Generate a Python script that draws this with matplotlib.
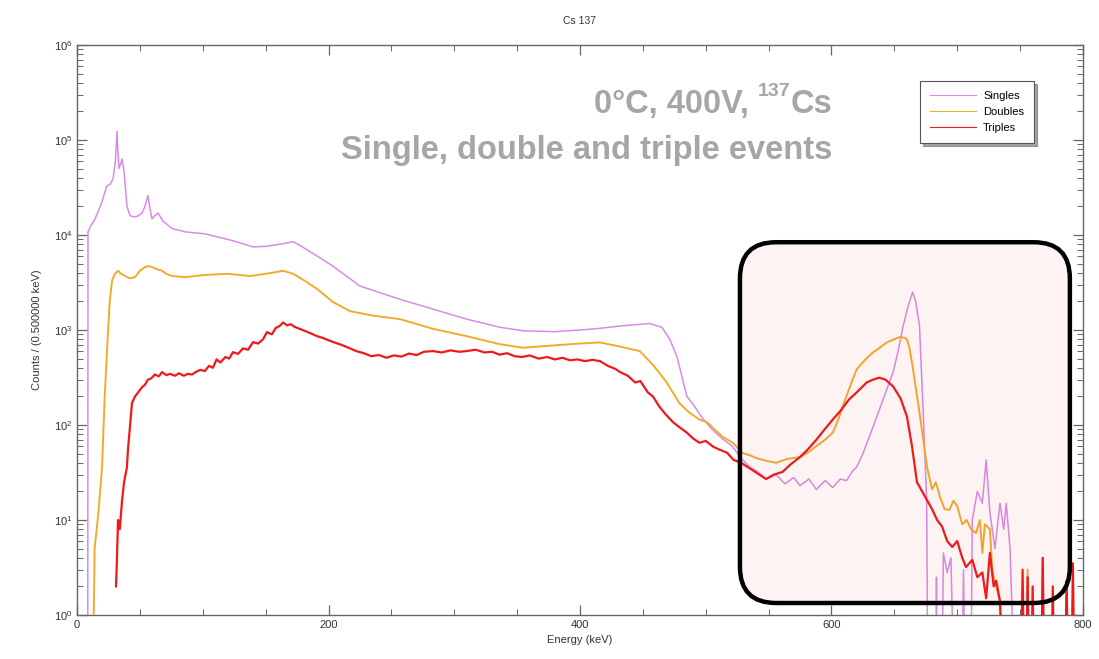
import matplotlib
matplotlib.use("Agg")
import matplotlib.pyplot as plt
from matplotlib.patches import FancyBboxPatch
from matplotlib.ticker import MultipleLocator, LogLocator, NullFormatter
import numpy as np

# ---------------- data ----------------
singles_E = [8.5, 8.7, 11, 14.3, 17, 19.9, 22, 23.8, 26.2, 28.6, 30.5, 31.8, 32.6, 33.4, 35.8, 37.4,
             39.7, 42.1, 45, 47.7, 51.7, 54, 56.4, 58, 59.6, 62, 64.4, 68.4, 75.5, 85.9, 101.7, 124,
             140, 151, 164, 172, 177, 191, 203.5, 225, 257, 283, 310, 336, 355, 380, 400, 415.7,
             431.6, 455.5, 465, 471.4, 477, 481, 485, 490, 497, 505, 513, 521, 528, 535, 540, 548,
             556, 563, 570, 575, 582, 588, 595, 601, 607, 612, 617, 620, 625, 633, 641, 649, 653,
             657, 661, 664.5, 667, 670, 672.5, 675.7, 676.5, 683, 683.5, 684, 688, 689, 692, 695,
             697, 704, 705, 706, 711, 712, 716, 720, 723, 726, 730, 734, 737, 739, 742, 745]
singles_C = [0.3, 1.08e4, 1.25e4, 1.48e4, 1.8e4, 2.24e4, 2.8e4, 3.3e4, 3.4e4, 3.9e4, 6.0e4, 1.23e5,
             7.0e4, 5.0e4, 6.3e4, 4.7e4, 2.0e4, 1.6e4, 1.55e4, 1.57e4, 1.7e4, 2.0e4, 2.6e4, 1.9e4,
             1.48e4, 1.6e4, 1.7e4, 1.4e4, 1.17e4, 1.08e4, 1.03e4, 8.7e3, 7.5e3, 7.6e3, 8.1e3, 8.5e3,
             7.8e3, 6.0e3, 4.7e3, 2.9e3, 2.1e3, 1.66e3, 1.3e3, 1.07e3, 980, 960, 1.0e3, 1.04e3,
             1.1e3, 1.17e3, 1.07e3, 800, 530, 325, 200, 165, 120, 90, 72, 60, 45, 36, 33, 27,
             30, 24, 28, 23, 27, 21, 26, 22, 27, 26, 33, 36, 50, 95, 185, 360, 600,
             1100, 1800, 2500, 2000, 1100, 190, 16, 0.3, 0.3, 2.5, 0.3, 0.3, 4.5, 2.8, 4,
             0.3, 0.3, 3, 0.3, 0.3, 10, 20, 15, 43, 12, 5, 15, 8, 15, 5, 0.3]

doubles_E = [12.7, 14, 17, 19.9, 22, 24.6, 26, 27.8, 30, 32.6, 35, 38.2, 42, 46.1, 50, 54, 57,
             59.6, 63, 67.6, 71, 75.5, 85.9, 101.7, 120, 137.5, 150, 164, 172, 181, 191, 203.5,
             217, 235, 257, 283, 310, 336, 354.5, 380, 400, 415.7, 431.6, 447.5, 458, 469, 479,
             487, 495, 501, 507, 513.5, 521.5, 529, 535, 540, 548, 556, 565, 575, 582, 588, 595,
             601, 605, 609, 615, 620, 627, 633, 639, 644, 650, 654, 658, 660, 662, 664.5, 667,
             670, 673, 676, 680, 683, 686, 690, 694, 697, 700, 704, 707.5, 711, 715, 718, 720,
             722, 726, 728, 731, 734, 736, 755, 756, 757, 767, 768, 769, 786, 787, 788]
doubles_C = [0.3, 5, 12, 36, 200, 950, 2000, 3.3e3, 3.9e3, 4.2e3, 3.9e3, 3.7e3, 3.5e3, 3.6e3,
             4.2e3, 4.6e3, 4.7e3, 4.6e3, 4.4e3, 4.2e3, 3.9e3, 3.7e3, 3.6e3, 3.8e3, 3.9e3, 3.7e3,
             3.9e3, 4.2e3, 3.9e3, 3.3e3, 2.7e3, 1.97e3, 1.58e3, 1.42e3, 1.3e3, 1.03e3, 860, 710,
             650, 690, 720, 740, 670, 600, 430, 280, 170, 135, 114, 107, 90, 75, 65, 51, 48, 45,
             42, 40, 44, 46, 52, 60, 70, 83, 110, 157, 260, 385, 490, 580, 660, 740, 800, 840,
             830, 800, 650, 415, 250, 135, 70, 36, 21, 25, 18, 13, 12.8, 16, 14, 9, 10, 8, 7.3,
             10, 4.5, 9, 8, 2.8, 2, 1.4, 0.3, 0.3, 3, 0.3, 0.3, 4, 0.3, 0.3, 2.3, 0.3]

triples_E = [31, 31.8, 32.6, 34, 35.8, 37.4, 39.7, 40.5, 42.1, 43.7, 46.1, 48, 51.7, 54, 56.4, 59,
             62, 65, 67.6, 71, 74, 77.9, 81, 85, 88, 91.4, 95, 98, 101.7, 105, 108, 111, 114, 118,
             121, 124, 128, 132, 136, 140, 144, 148, 151, 155, 158, 161, 164, 167, 170, 173, 177,
             181, 186, 191, 196, 200, 204, 210, 216, 222, 228, 234, 240, 246, 252, 258, 264, 270,
             276, 283, 290, 297, 304, 310, 317, 324, 330, 336, 342, 348, 354, 360, 367, 374, 380,
             386, 392, 398, 404, 410, 416, 422, 428, 432, 438, 444, 448, 454, 458, 463, 468, 474,
             479, 485, 490, 495, 500, 506, 511, 517, 522, 528, 535, 541, 548, 554, 561, 567, 575,
             581, 588, 594, 601, 607, 614, 620, 628, 633, 638, 643, 649, 655, 660, 664, 668, 674,
             680, 684, 688, 692, 696, 700, 704, 707, 712, 716, 720, 723, 726, 729, 731, 734, 736,
             751, 752, 753, 755, 756, 757, 759, 760, 761, 767, 768, 769, 775, 776, 777, 786, 787,
             788, 791, 792, 793]
triples_C = [2, 4.1, 10, 8, 16, 25, 36, 55, 97, 170, 200, 215, 250, 265, 300, 310, 340, 325, 360,
             335, 345, 330, 350, 330, 345, 340, 365, 380, 370, 420, 400, 490, 455, 520, 500, 585,
             560, 640, 620, 745, 720, 800, 950, 900, 1050, 1100, 1200, 1120, 1150, 1080, 1030, 980,
             920, 860, 820, 780, 745, 700, 650, 600, 570, 530, 545, 510, 540, 525, 565, 545, 590,
             600, 580, 610, 590, 600, 620, 580, 590, 550, 570, 530, 520, 540, 500, 520, 490, 510,
             480, 490, 470, 485, 470, 420, 390, 360, 330, 280, 290, 220, 200, 157, 130, 107, 95,
             83, 72, 65, 68, 59, 55, 51, 43, 40, 35, 31, 27, 30, 32, 38, 46, 55, 70, 88, 114, 140,
             186, 220, 280, 300, 315, 300, 255, 190, 123, 60, 25, 18, 13, 10, 8.5, 6, 5.2, 6, 4,
             3.2, 3.8, 2.5, 2.8, 1.5, 4.5, 2, 2.3, 1.4, 0.3, 0.3, 3, 0.3, 0.3, 2.5, 0.3, 0.3, 2,
             0.3, 0.3, 4, 0.3, 0.3, 2, 0.3, 0.3, 2.3, 0.3, 0.3, 3.5, 0.3]

series_names = ["Singles", "Doubles", "Triples"]
series_colors = ["#d98be8", "#f2ab2c", "#ee1a1a"]
x_ticks = [0, 200, 400, 600, 800]

# ---------------- figure ----------------
plt.rcParams['font.family'] = ['Liberation Sans', 'DejaVu Sans']
fig = plt.figure(figsize=(10.99, 6.59), dpi=100)
ax = fig.add_axes([0.0701, 0.0668, 0.9153, 0.8649])

ax.plot(singles_E, singles_C, color=series_colors[0], lw=1.1, label=series_names[0], zorder=2)
ax.plot(doubles_E, doubles_C, color=series_colors[1], lw=1.4, label=series_names[1], zorder=3)
ax.plot(triples_E, triples_C, color=series_colors[2], lw=1.6, label=series_names[2], zorder=4)

ax.set_yscale('log')
ax.set_xlim(0, 800)
ax.set_ylim(1, 1e6)
ax.set_xticks(x_ticks)
ax.xaxis.set_minor_locator(MultipleLocator(50))
ax.yaxis.set_major_locator(LogLocator(base=10, numticks=10))
ax.yaxis.set_minor_locator(LogLocator(base=10, subs=np.arange(2, 10), numticks=100))
ax.yaxis.set_minor_formatter(NullFormatter())
ax.tick_params(which='both', direction='in', top=True, right=True, color='#666666',
               labelsize=8, labelcolor='#333333')
ax.tick_params(which='major', length=7, width=0.9)
ax.tick_params(which='minor', length=4, width=0.7)
for s in ax.spines.values():
    s.set_color('#666666')
    s.set_linewidth(1.0)

ax.set_xlabel("Energy (keV)", fontsize=8, color='#333333', labelpad=4)
ax.set_ylabel("Counts / (0.500000 keV)", fontsize=8, color='#333333', labelpad=8)
ax.set_title("Cs 137", fontsize=7.5, color='#333333', pad=15)

leg = ax.legend(loc='upper right', bbox_to_anchor=(0.957, 0.947), fontsize=8, frameon=True,
                fancybox=False, shadow=True, handlelength=4.2, borderpad=0.9,
                labelspacing=0.55, handletextpad=0.6)
leg.get_frame().set_edgecolor('#555555')
leg.get_frame().set_linewidth(0.8)
for lh in leg.get_lines():
    lh.set_linewidth(0.8)

# annotation text (line 1 built from pieces so the superscript is small)
txt_kw = dict(fontweight='bold', color='#a6a6a6', transform=ax.transAxes)
t_cs = ax.text(0.751, 0.895, "Cs", ha='right', va='center', fontsize=23.5, **txt_kw)
fig.canvas.draw()
bb = t_cs.get_window_extent().transformed(ax.transAxes.inverted())
t_sup = ax.text(bb.x0, 0.918, "137", ha='right', va='center', fontsize=14, **txt_kw)
fig.canvas.draw()
bb2 = t_sup.get_window_extent().transformed(ax.transAxes.inverted())
ax.text(bb2.x0, 0.895, "0°C, 400V, ", ha='right', va='center', fontsize=23.5, **txt_kw)
ax.text(0.751, 0.815, "Single, double and triple events", ha='right', va='center',
        fontsize=23.5, **txt_kw)

# rounded highlight box
aspect = (0.9153 * 1099) / (0.8649 * 659)
box = FancyBboxPatch((0.659, 0.021), 0.328, 0.633, transform=ax.transAxes,
                     boxstyle="round,pad=0,rounding_size=0.036", mutation_aspect=aspect,
                     facecolor='#e04040', alpha=0.06, edgecolor='none', zorder=5, clip_on=False)
ax.add_patch(box)
box2 = FancyBboxPatch((0.659, 0.021), 0.328, 0.633, transform=ax.transAxes,
                      boxstyle="round,pad=0,rounding_size=0.036", mutation_aspect=aspect,
                      facecolor='none', edgecolor='black', lw=3.2, zorder=6, clip_on=False)
ax.add_patch(box2)

fig.savefig("out.png", dpi=100)
